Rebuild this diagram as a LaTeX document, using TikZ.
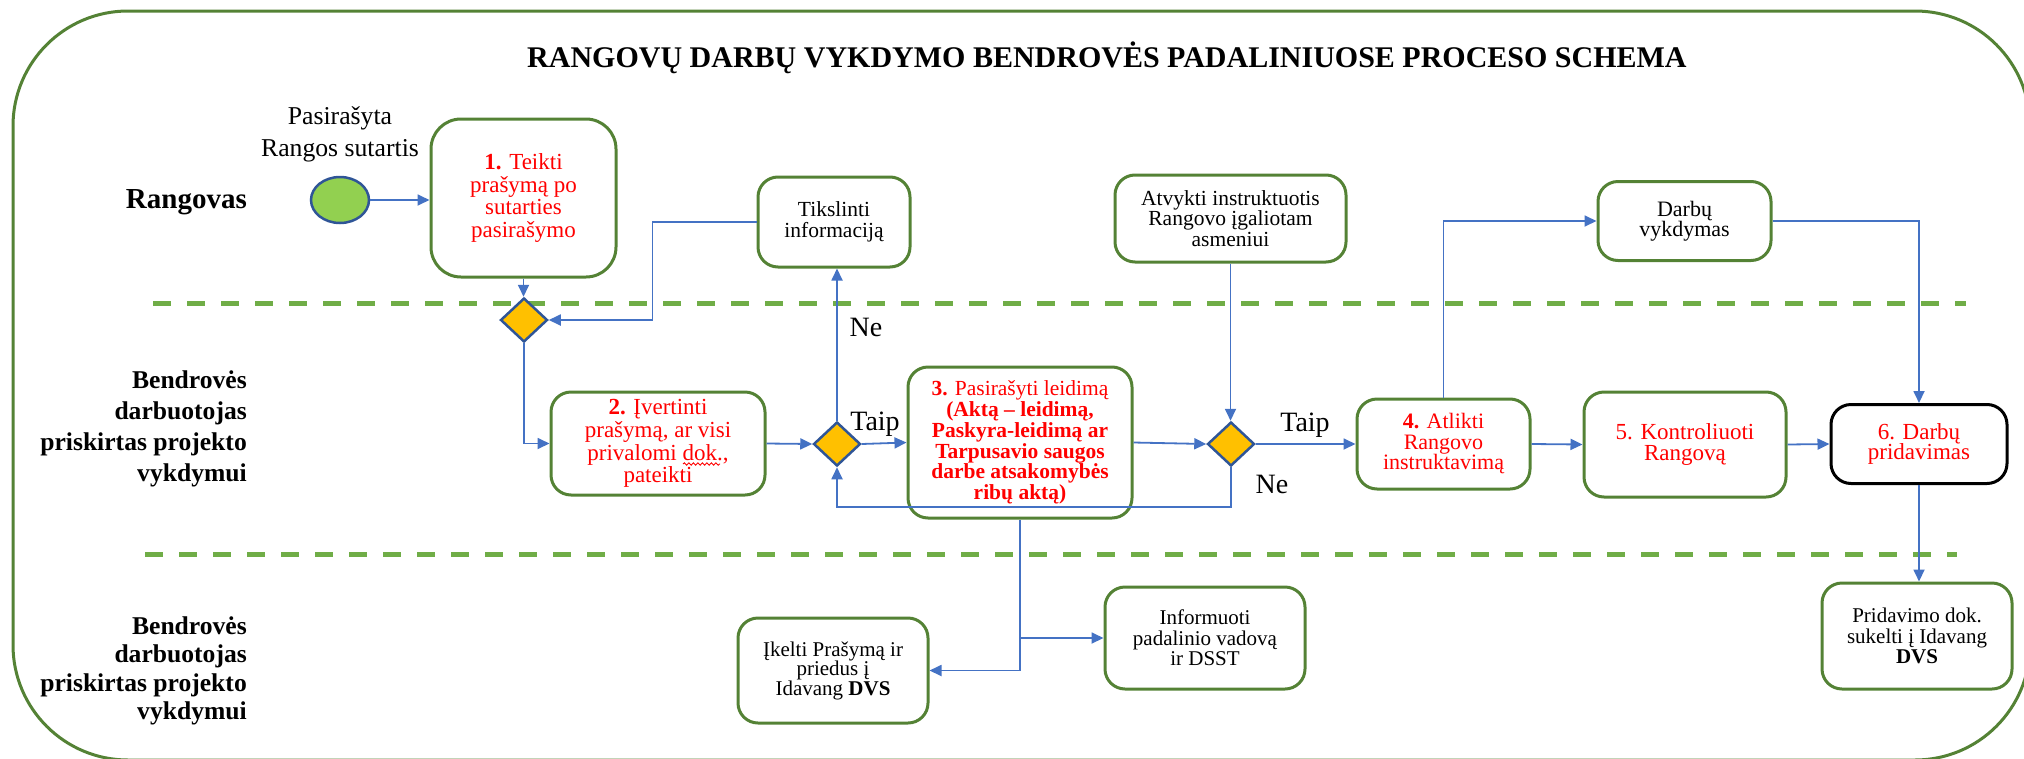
\documentclass[tikz,border=0pt]{standalone}
\usepackage{fontspec}
\setmainfont{Liberation Serif}
\usetikzlibrary{arrows.meta,shapes.geometric,decorations.pathmorphing}
\definecolor{framegreen}{HTML}{548235}
\definecolor{lanegreen}{HTML}{70AD47}
\definecolor{lineblue}{HTML}{4472C4}
\definecolor{dborder}{HTML}{2F5597}
\definecolor{dfill}{HTML}{FFC000}
\definecolor{cfill}{HTML}{92D050}
\definecolor{txtred}{HTML}{FF0000}
\tikzset{
  box/.style={draw=framegreen, line width=3pt, rounded corners=20pt, align=center, inner sep=0pt, fill=none},
  redtxt/.style={text=txtred},
  fsmall/.style={font=\fontsize{21.5}{20.5}\selectfont},
  fred/.style={font=\fontsize{23}{22.7}\selectfont},
  conn/.style={draw=lineblue, line width=1.8pt, -{Triangle[length=12pt,width=11pt]}},
  gate/.style={diamond, draw=dborder, fill=dfill, line width=2.5pt, inner sep=0pt, minimum width=47pt, minimum height=44pt},
  lanelbl/.style={align=right, anchor=east, inner sep=0pt, font=\bfseries\fontsize{25.6}{31}\selectfont},
  yn/.style={inner sep=0pt, font=\fontsize{28}{28}\selectfont},
  lanedash/.style={lanegreen, line width=5pt, dash pattern=on 18pt off 16pt},
  spellmark/.style={txtred, line width=0.9pt, decorate, decoration={snake, amplitude=1.2pt, segment length=4.5pt}}
}
\begin{document}
\begin{tikzpicture}[x=1pt,y=-1pt]
\useasboundingbox (0,0) rectangle (2024,758);
% frame
\draw[framegreen, line width=3pt, rounded corners=115pt] (13,11) rectangle (2030,760);
% title
\node[inner sep=0pt, font=\bfseries\fontsize{30}{30}\selectfont] (title) at (1107,58) {RANGOVŲ DARBŲ VYKDYMO BENDROVĖS PADALINIUOSE PROCESO SCHEMA};
% lane separators
\draw[lanedash] (153,303) -- (1966,303);
\draw[lanedash] (145,554) -- (1957,554);
% lane labels
\node[inner sep=0pt, anchor=east, font=\bfseries\fontsize{29}{29}\selectfont] (lane1) at (247,202) {Rangovas};
\node[lanelbl] (lane2) at (247,429) {Bendrovės\\darbuotojas\\priskirtas projekto\\vykdymui};
\node[lanelbl, font=\bfseries\fontsize{25.6}{28.5}\selectfont] (lane3) at (247,671) {Bendrovės\\darbuotojas\\priskirtas projekto\\vykdymui};
% start
\node[ellipse, draw=dborder, fill=cfill, line width=2.5pt, minimum width=58pt, minimum height=46pt, inner sep=0pt] (start) at (340,200) {};
\node[align=center, inner sep=0pt, font=\fontsize{25.7}{32}\selectfont] (startlbl) at (340,134) {Pasirašyta\\Rangos sutartis};
% boxes
\node[box, redtxt, fred, rounded corners=30pt, minimum width=185pt, minimum height=158pt] (b1) at (523.5,198) {\textbf{1.} Teikti\\prašymą po\\sutarties\\pasirašymo};
\node[box, fsmall, minimum width=152pt, minimum height=90pt] (tik) at (834,222) {Tikslinti\\informaciją};
\node[box, fsmall, minimum width=231pt, minimum height=87pt] (atv) at (1230.5,218.5) {Atvykti instruktuotis\\Rangovo įgaliotam\\asmeniui};
\node[box, font=\fontsize{22}{20.5}\selectfont, minimum width=173pt, minimum height=79pt] (darb) at (1684.5,221) {Darbų\\vykdymas};
\node[box, redtxt, fred, minimum width=214pt, minimum height=103pt] (b2) at (658,443.5) {\textbf{2.} Įvertinti\\prašymą, ar visi\\privalomi dok.,\\pateikti};
\node[box, redtxt, font=\fontsize{21.5}{20.7}\selectfont, minimum width=224pt, minimum height=151pt] (b3) at (1020,442.5) {\textbf{3.} Pasirašyti leidimą\\\textbf{(Aktą – leidimą,}\\\textbf{Paskyra-leidimą ar}\\\textbf{Tarpusavio saugos}\\\textbf{darbe atsakomybės}\\\textbf{ribų aktą)}};
\node[box, redtxt, font=\fontsize{22}{20.5}\selectfont, minimum width=173pt, minimum height=90pt] (b4) at (1443.5,444) {\textbf{4.} Atlikti\\Rangovo\\instruktavimą};
\node[box, redtxt, font=\fontsize{23}{21.5}\selectfont, minimum width=202pt, minimum height=105pt] (b5) at (1685,444.5) {5. Kontroliuoti\\Rangovą};
\node[box, draw=black, redtxt, font=\fontsize{23}{20.5}\selectfont, minimum width=176pt, minimum height=79pt] (b6) at (1919,444) {6. Darbų\\pridavimas};
\node[box, font=\fontsize{21}{19.5}\selectfont, minimum width=190pt, minimum height=105pt] (ikelti) at (833,670.5) {Įkelti Prašymą ir\\priedus į\\Idavang \textbf{DVS}};
\node[box, font=\fontsize{21}{20.5}\selectfont, minimum width=200pt, minimum height=102pt] (inform) at (1205,638) {Informuoti\\padalinio vadovą\\ir DSST};
\node[box, font=\fontsize{21}{20.5}\selectfont, minimum width=190pt, minimum height=106pt] (prid) at (1917,636) {Pridavimo dok.\\sukelti į Idavang\\\textbf{DVS}};
% spell-check underline under "dok."
\draw[spellmark] (683,464) -- (720,464);
% gateways
\node[gate] (d1) at (524,320) {};
\node[gate] (d2) at (837,444) {};
\node[gate] (d3) at (1231,444) {};
% labels
\node[yn] (ne1) at (866,327) {Ne};
\node[yn] (taip1) at (875,424) {Taip};
\node[yn] (taip2) at (1305,425) {Taip};
\node[yn] (ne2) at (1272,484) {Ne};
% connectors
\draw[conn] (start.east) -- (start.east -| b1.west);
\draw[conn] (b1.south) -- (b1.south |- d1.north);
\draw[conn] (tik.west) -- ++(-104,0) |- (d1.east);
\draw[conn] (d1.south) |- (b2.west);
\draw[conn] (b2.east) -- (d2.west);
\draw[conn] (d2.east) -- (b3.west);
\draw[conn] (d2.north) -- (d2.north |- tik.south);
\draw[conn] (b3.east) -- (d3.west);
\draw[conn] (atv.south) -- (atv.south |- d3.north);
\draw[conn] (d3.south) -- ++(0,40) -| (d2.south);
\draw[conn] (d3.east) -- (b4.west);
\draw[conn] (b4.north) |- (darb.west);
\draw[conn] (darb.east) -| (b6.north);
\draw[conn] (b4.east) -- (b5.west);
\draw[conn] (b5.east) -- (b6.west);
\draw[conn] (b6.south) -- (b6.south |- prid.north);
\draw[conn] (b3.south) |- (ikelti.east);
\coordinate (split) at (b3.south |- inform.west);
\draw[conn] (split) -- (inform.west);
\end{tikzpicture}
\end{document}
